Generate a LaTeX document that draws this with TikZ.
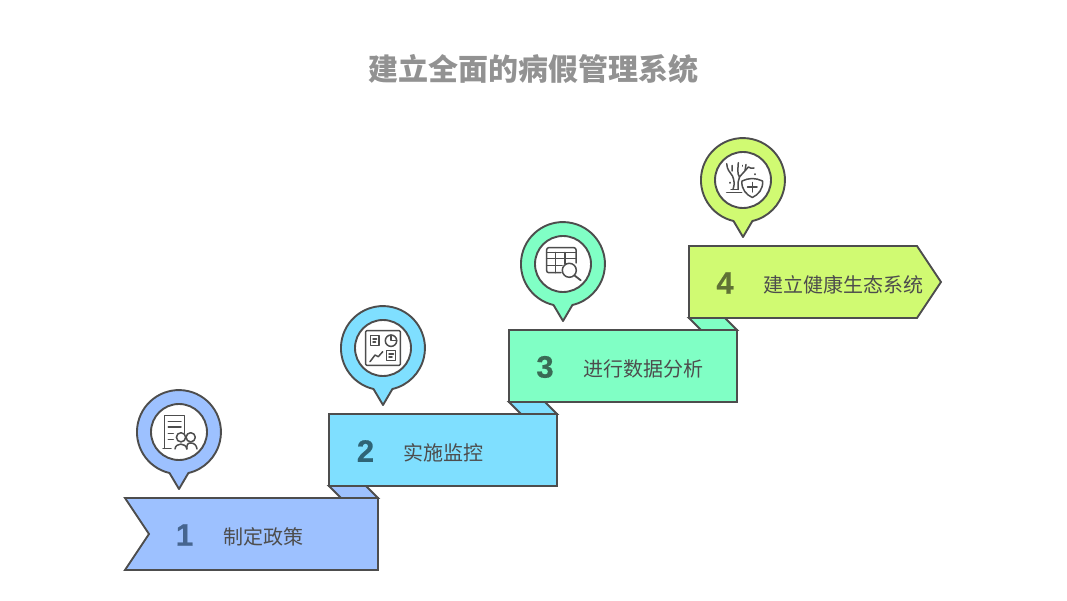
\documentclass[tikz,border=0pt]{standalone}
\usepackage{fontspec}
\setmainfont{Noto Sans CJK SC}
\newfontfamily\numfont[BoldFeatures={FakeBold=0.6}]{Liberation Sans}
\usepackage{xcolor}
\definecolor{linegrey}{HTML}{4D4D4D}
\definecolor{titlegrey}{HTML}{929292}
\definecolor{stepblue}{HTML}{9DC1FF}
\definecolor{stepcyan}{HTML}{7FDFFF}
\definecolor{stepgreen}{HTML}{80FFC5}
\definecolor{steplime}{HTML}{D0FA72}
\definecolor{numblue}{HTML}{46658F}
\definecolor{numcyan}{HTML}{2F6476}
\definecolor{numgreen}{HTML}{3A6B55}
\definecolor{numlime}{HTML}{5F7135}
\newcommand{\pinbody}[2]{\draw[pinbody, fill=#2, shift={(#1)}] (0,-57) -- (-9.5,-41) arc[start angle=257, end angle=-77, radius=42] -- cycle;}
\begin{document}
\begin{tikzpicture}[x=1pt, y=1pt,
    banner/.style={draw=linegrey, line width=1.9pt, line join=miter},
    pinbody/.style={draw=linegrey, line width=1.9pt, line join=round},
    hole/.style={circle, draw=linegrey, line width=1.9pt, fill=white, minimum size=56pt, inner sep=0pt},
    icon/.style={draw=linegrey, line width=1.5pt, line cap=round, line join=round},
    steptext/.style={font=\fontsize{20}{24}\selectfont, text=linegrey, inner sep=0pt},
    stepnum/.style={font=\numfont\bfseries\fontsize{31}{35}\selectfont, inner sep=0pt}
]
    \useasboundingbox (0,0) rectangle (1067,600);
    \node[font=\bfseries\fontsize{30}{36}\selectfont, text=titlegrey, inner sep=0pt] (title) at (533.5,531) {建立全面的病假管理系统};

    % step 1
    \draw[banner, fill=stepblue] (125,102) -- (378,102) -- (378,30) -- (125,30) -- (149,66) -- cycle;
    \draw[banner, fill=stepblue] (329,114) -- (341,102) -- (378,102) -- (366,114) -- cycle;
    % step 2
    \draw[banner, fill=stepcyan] (329,186) rectangle (557,114);
    \draw[banner, fill=stepcyan] (509,198) -- (521,186) -- (557,186) -- (545,198) -- cycle;
    % step 3
    \draw[banner, fill=stepgreen] (509,270) rectangle (737,198);
    \draw[banner, fill=stepgreen] (689,282) -- (701,270) -- (737,270) -- (725,282) -- cycle;
    % step 4
    \draw[banner, fill=steplime] (689,354) -- (917,354) -- (941,318) -- (917,282) -- (689,282) -- cycle;

    \node[stepnum, text=numblue] (num1) at (184.5,65) {1};
    \node[stepnum, text=numcyan] (num2) at (365.5,149) {2};
    \node[stepnum, text=numgreen] (num3) at (545,233) {3};
    \node[stepnum, text=numlime] (num4) at (725,317) {4};

    \node[steptext] (text1) at (263.5,63) {制定政策};
    \node[steptext] (text2) at (443.5,147) {实施监控};
    \node[steptext] (text3) at (643.5,231) {进行数据分析};
    \node[steptext] (text4) at (843.5,315) {建立健康生态系统};

    % pins
    \pinbody{179,168}{stepblue}
    \pinbody{383,252}{stepcyan}
    \pinbody{563,336}{stepgreen}
    \pinbody{743,420}{steplime}
    \node[hole] (hole1) at (179,168) {};
    \node[hole] (hole2) at (383,252) {};
    \node[hole] (hole3) at (563,336) {};
    \node[hole] (hole4) at (743,420) {};

    % document and people
    \begin{scope}[shift={(hole1)}]
        \draw[icon] (5.3,-1.3) -- (5.3,16.3) -- (-14.7,16.3) -- (-14.7,-16.3);
        \draw[icon] (-16,-16.3) -- (-8,-16.3);
        \draw[icon] (-10.7,10.3) -- (2,10.3) (-10.7,5) -- (2,5) (-10.7,-1.3) -- (-5.7,-1.3) (-10.7,-7.3) -- (-5.7,-7.3);
        \draw[icon] (2,-5.3) circle (4.6) (11.7,-5.3) circle (4.6);
        \draw[icon] (-4,-17) .. controls (-3.5,-10.5) and (7,-10.5) .. (7.8,-17);
        \draw[icon] (7.8,-17) .. controls (8,-13) and (8,-11) .. (11.7,-11) .. controls (15,-11) and (17.5,-13) .. (18,-17);
    \end{scope}

    % dashboard
    \begin{scope}[shift={(hole2)}]
        \draw[icon, rounded corners=1pt] (-17.3,-17.3) rectangle (17.3,17.3);
        \draw[icon] (-12.3,12.3) rectangle (-4,2.3);
        \draw[icon] (-10,9) -- (-6.5,9) (-10,6) -- (-7.5,6);
        \draw[icon] (8,7.3) circle (5.7);
        \draw[icon] (8,13) -- (8,7.3) -- (13.7,7.3);
        \draw[icon] (-13,-13.7) -- (-8,-7) -- (-4.7,-8.7) -- (-0.3,-3.7);
        \draw[icon] (3.7,-2.7) rectangle (12.7,-12.7);
        \draw[icon] (6,-6) -- (10.5,-6) (6,-9) -- (9,-9);
    \end{scope}

    % table and magnifier
    \begin{scope}[shift={(hole3)}]
        \draw[icon, rounded corners=2pt] (-2,-8.7) -- (-16.3,-8.7) -- (-16.3,16.3) -- (13,16.3) -- (13,1);
        \draw[icon] (-16.3,11.5) -- (13,11.5) (-16.3,5.5) -- (13,5.5) (-16.3,-1.5) -- (-1,-1.5);
        \draw[icon] (-7.3,11.5) -- (-7.3,-8.7) (2,11.5) -- (2,0);
        \draw[icon, fill=white] (6.3,-6.3) circle (7);
        \draw[icon, line width=1.8pt] (11.3,-11.3) -- (17.7,-16.3);
    \end{scope}

    % tree and shield
    \begin{scope}[shift={(hole4)}]
        \draw[icon] (-16.3,-12.7) -- (-1.3,-12.7) (-12,-9.5) -- (-5,-9.5);
        \draw[icon] (-10,-9.5) .. controls (-8,-4) and (-9,0) .. (-10.5,4) .. controls (-13,8) and (-16,10) .. (-16.3,16.3);
        \draw[icon] (-5,-9.5) .. controls (-5,-3) and (-5,0) .. (-3.5,3) .. controls (-1,6) and (2,9) .. (5.3,13) (5.3,13) .. controls (7,12) and (9,11) .. (11,12);
        \draw[icon] (-3.5,3) .. controls (-6,6) and (-5,12) .. (-4.7,17.3);
        \draw[icon] (-11,9) -- (-11,14.5) (2,9.5) -- (3,15.5);
        \draw[icon, line width=1.8pt] (-13,-3) -- (-13,-2.6) (12,5.5) -- (12,5.9) (-0.5,14) -- (-0.5,14.4);
        \draw[icon, fill=white] (9.3,1.5) .. controls (13,1.5) and (16,0.5) .. (19.5,-1) .. controls (20.5,-9) and (15,-15) .. (9.3,-17.5) .. controls (3.5,-15) and (-2,-9) .. (-1,-1) .. controls (2.5,0.5) and (5.5,1.5) .. (9.3,1.5) -- cycle;
        \draw[icon] (9.3,-2.5) -- (9.3,-12) (4.5,-7) -- (14,-7);
    \end{scope}
\end{tikzpicture}
\end{document}
